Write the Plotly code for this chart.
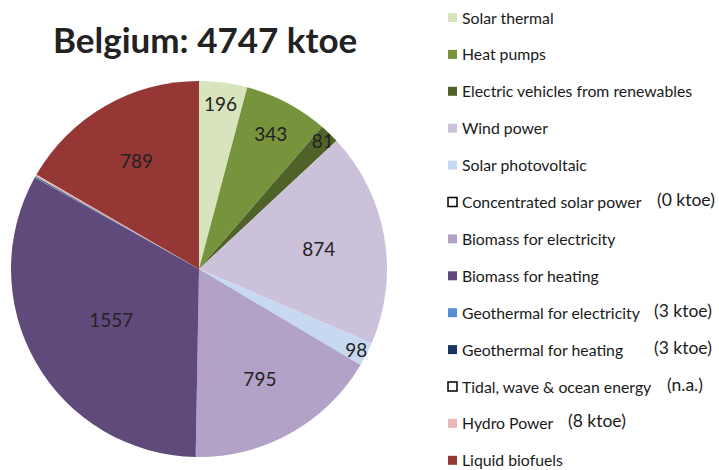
import plotly.graph_objects as go

labels = ["Solar thermal", "Heat pumps", "Electric vehicles from renewables", "Wind power",
          "Solar photovoltaic", "Concentrated solar power", "Biomass for electricity",
          "Biomass for heating", "Geothermal for electricity", "Geothermal for heating",
          "Tidal, wave & ocean energy", "Hydro Power", "Liquid biofuels"]
values = [196, 343, 81, 874, 98, 0, 795, 1557, 3, 3, 0, 8, 789]
notes = ["", "", "", "", "", "(0 ktoe)", "", "", "(3 ktoe)", "(3 ktoe)", "(n.a.)", "(8 ktoe)", ""]
colors = ["#d7e4bd", "#77933c", "#4f6228", "#ccc1da", "#c6d9f1", "#ffffff", "#b3a2c7",
          "#604a7b", "#558ed5", "#17375e", "#ffffff", "#e6b9b8", "#953735"]
total = 4747
title = f"Belgium: {total} ktoe"

FONT = "Lato, Open Sans, sans-serif"
slice_text = [str(v) if v >= 50 else "" for v in values]

fig = go.Figure(go.Pie(
    labels=labels, values=values, text=slice_text, textinfo="text",
    sort=False, direction="clockwise", rotation=0,
    marker=dict(colors=colors, line=dict(width=0)),
    textposition="inside", insidetextorientation="horizontal",
    textfont=dict(family=FONT, size=19, color="#222222"),
    domain=dict(x=[11/719, 387/719], y=[1-457/470, 1-81/470]),
    showlegend=False, hoverinfo="label+value",
))

W, H = 719, 470
shapes = []
annotations = [dict(text=f"<b>{title}</b>", x=205/W, y=1-39/H, xref="paper", yref="paper",
                    xanchor="center", yanchor="middle", showarrow=False,
                    font=dict(family=FONT, size=35, color="#222222"))]
note_x = {"(0 ktoe)": 655, "(3 ktoe)": 652, "(n.a.)": 665, "(8 ktoe)": 566}
for i, (lab, col, note) in enumerate(zip(labels, colors, notes)):
    yc = 17 + i * 36.9
    hollow = col == "#ffffff"
    shapes.append(dict(type="rect", xref="paper", yref="paper",
                       x0=448/W, x1=457/W, y0=1-(yc+5)/H, y1=1-(yc-4)/H,
                       fillcolor=col, line=dict(color="#000000" if hollow else col, width=1.5 if hollow else 0)))
    annotations.append(dict(text=lab, x=460/W, y=1-yc/H, xref="paper", yref="paper",
                            xanchor="left", yanchor="middle", showarrow=False,
                            font=dict(family=FONT, size=15.8, color="#1a1a1a")))
    if note:
        annotations.append(dict(text=note, x=note_x[note]/W, y=1-(yc-2)/H, xref="paper", yref="paper",
                                xanchor="left", yanchor="middle", showarrow=False,
                                font=dict(family=FONT, size=17.5, color="#1a1a1a")))

fig.update_layout(width=W, height=H, margin=dict(l=0, r=0, t=0, b=0),
                  paper_bgcolor="white", plot_bgcolor="white",
                  uniformtext=dict(minsize=19, mode="show"),
                  shapes=shapes, annotations=annotations)
fig.write_html("out.html", config={"displayModeBar": False},
               post_script="document.body.style.margin='0';document.body.style.overflow='hidden';")
